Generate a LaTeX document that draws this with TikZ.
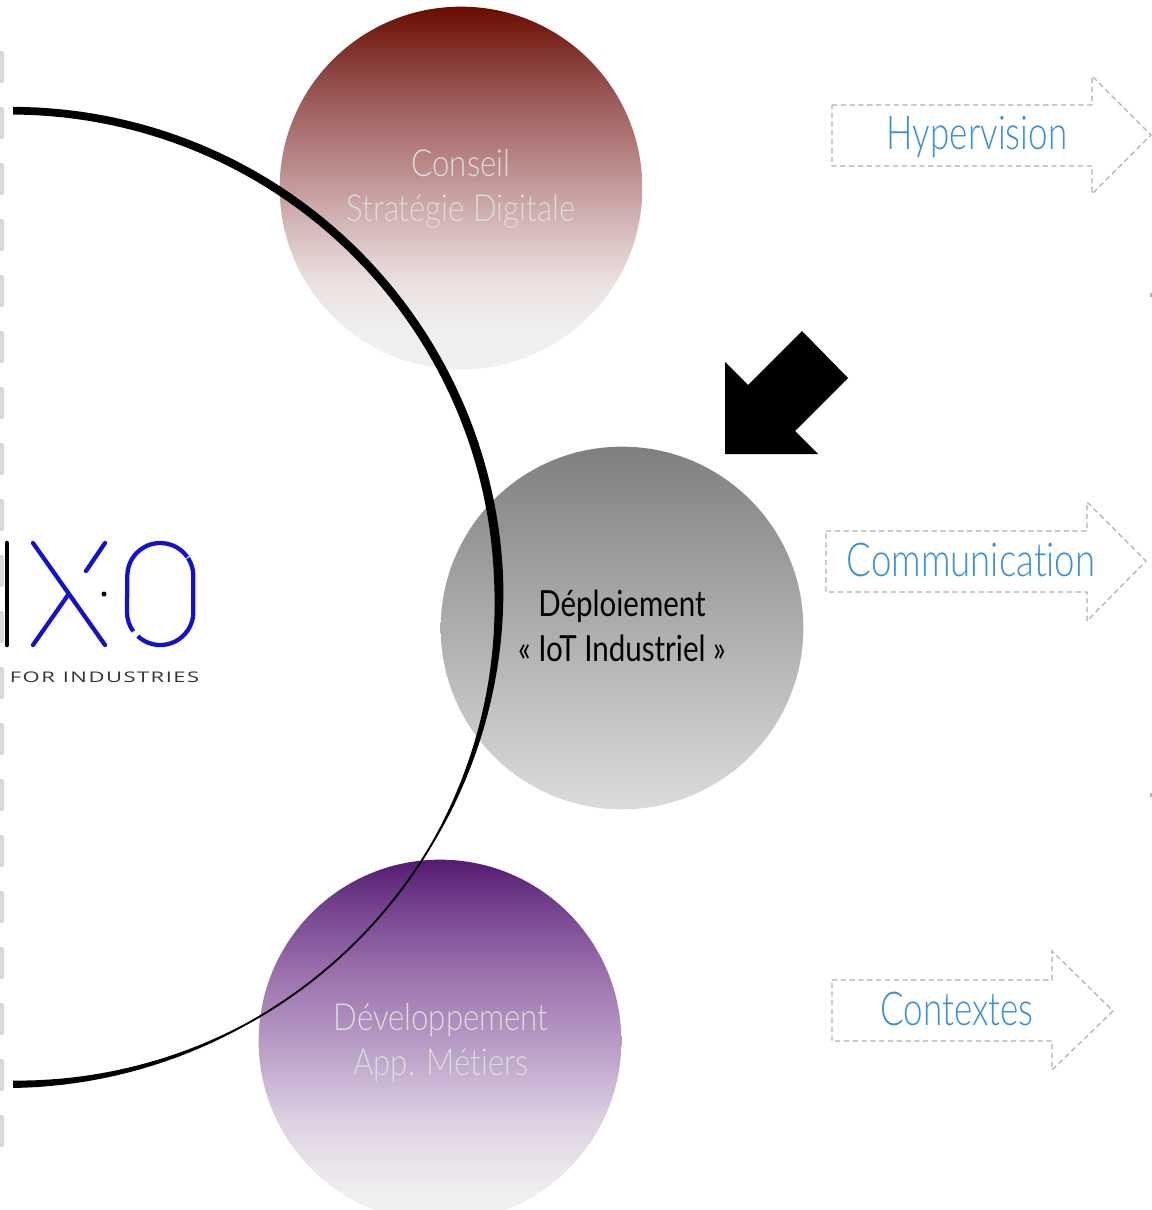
\documentclass[tikz,border=0pt]{standalone}
\usepackage{fontspec}
\setmainfont{Lato}
\newfontfamily\labelfont[FakeStretch=0.75,Ligatures=CommonOff]{Lato Light}
\newfontfamily\disclight[FakeStretch=0.835,Ligatures=CommonOff]{Lato Light}
\newfontfamily\discdark[FakeStretch=0.82,Ligatures=CommonOff]{Lato}
\newfontfamily\logofont[FakeStretch=1.5,LetterSpace=10]{Open Sans}
\definecolor{tabgray}{HTML}{D9D9D9}
\definecolor{dashgray}{HTML}{B0B0B0}
\definecolor{linkblue}{HTML}{3A8FD6}
\definecolor{logoblue}{HTML}{1212CC}
\definecolor{disctext}{HTML}{DCDCDC}
\pgfdeclareverticalshading{redfade}{100bp}{rgb(0bp)=(0.945,0.945,0.945);rgb(30bp)=(0.94,0.94,0.94);rgb(37bp)=(0.92,0.88,0.88);rgb(45bp)=(0.83,0.72,0.72);rgb(54bp)=(0.72,0.52,0.52);rgb(63bp)=(0.60,0.34,0.34);rgb(75bp)=(0.41,0.05,0.0);rgb(100bp)=(0.41,0.05,0.0)}
\pgfdeclareverticalshading{grayfade}{100bp}{rgb(0bp)=(0.86,0.86,0.86);rgb(25bp)=(0.86,0.86,0.86);rgb(75bp)=(0.50,0.50,0.50);rgb(100bp)=(0.50,0.50,0.50)}
\pgfdeclareverticalshading{purplefade}{100bp}{rgb(0bp)=(0.945,0.945,0.945);rgb(29bp)=(0.94,0.94,0.94);rgb(39bp)=(0.87,0.82,0.89);rgb(48bp)=(0.74,0.64,0.79);rgb(60bp)=(0.60,0.43,0.67);rgb(69bp)=(0.45,0.25,0.55);rgb(75bp)=(0.33,0.10,0.44);rgb(100bp)=(0.33,0.10,0.44)}
\tikzset{
  bigdisc/.style={circle,minimum size=272pt,inner sep=0pt,outer sep=0pt,draw=none},
  disclabel/.style={align=center,inner sep=0pt},
  arrowlabel/.style={font=\labelfont\fontsize{35pt}{40pt}\selectfont,text=linkblue,inner sep=0pt},
  dasharrow/.style={draw=dashgray,line width=0.9pt,dash pattern=on 4pt off 2.6pt},
  tabmark/.style={fill=tabgray,rounded corners=1.5pt},
  logostroke/.style={draw=logoblue,line width=3.2pt,line cap=round},
}
\begin{document}
\begin{tikzpicture}[x=0.75pt,y=-0.75pt,
  declare function={wd(\a)=1.9+7.3*max(0,min(1,(\a+30)/32))+5.5*max(0,min(1,(-\a-62)/28))-1.5*max(0,min(1,\a/90));}]
\useasboundingbox (0,0) rectangle (1152,1210);
\clip (0,0) rectangle (1152,1210);
\fill[white] (0,0) rectangle (1152,1210);
% left tabs
\foreach \k in {0,...,19}
  \fill[tabmark] (-6,51+56*\k) rectangle (4,83+56*\k);
% discs
\node[bigdisc,shading=redfade] (conseil) at (461,188) {};
\node[bigdisc,shading=grayfade] (deploiement) at (622,628) {};
\node[bigdisc,shading=purplefade] (developpement) at (440,1041) {};
% big arc
\begin{scope}
\clip (13,0) rectangle (1152,1210);
\fill[black] plot[domain=90:-90,samples=120] ({11.5+(487.5+wd(\x)/2)*cos(\x)},{597.5-(486.8+wd(\x)/2)*sin(\x)})
  -- plot[domain=-90:90,samples=120] ({11.5+(487.5-wd(\x)/2)*cos(\x)},{597.5-(486.8-wd(\x)/2)*sin(\x)}) -- cycle;
\end{scope}
% labels in discs
\node[disclabel,font=\disclight\fontsize{28pt}{33.75pt}\selectfont,text=disctext] (conseiltxt) at (461,188.5) {Conseil\\Stratégie Digitale};
\node[disclabel,font=\discdark\fontsize{27pt}{33.75pt}\selectfont,text=black] (deptxt) at (622,626) {Déploiement\\« IoT Industriel »};
\node[disclabel,font=\disclight\fontsize{28pt}{33.75pt}\selectfont,text=disctext] (devtxt) at (441,1042.5) {Développement\\App. Métiers};
% black arrow
\fill[black] (725,362) -- (748,385) -- (802,331) -- (848,378) -- (795,431) -- (818,454) -- (725,454) -- cycle;
% dashed arrows
\draw[dasharrow] (832,105) -- (1092,105) -- (1092,76) -- (1151,135) -- (1092,194) -- (1092,166) -- (832,166) -- cycle;
\node[arrowlabel] (hyper) at (977,136.5) {Hypervision};
\draw[dasharrow] (826,531) -- (1087,531) -- (1087,502) -- (1146,561) -- (1087,621) -- (1087,592) -- (826,592) -- cycle;
\node[arrowlabel,xscale=1.047] (comm) at (971,560) {Communication};
\draw[dasharrow] (832,980) -- (1052,980) -- (1052,951) -- (1113,1011) -- (1052,1070) -- (1052,1041) -- (832,1041) -- cycle;
\node[arrowlabel] (ctx) at (957,1009) {Contextes};
% right edge specks
\fill[dashgray] (1150,293) rectangle (1152,297);
\fill[dashgray] (1150,793) rectangle (1152,797);
% logo
\draw[black,line width=3.4pt,line cap=round] (7,543) -- (7,645);
\draw[logostroke] (33,543) -- (105,645);
\draw[logostroke] (105,543) -- (86,571);
\draw[logostroke] (68,595) -- (33,645);
\fill[black] (104,594) circle (2.5);
\draw[logostroke,line cap=butt] (188,558) arc (-33:0:33) -- (193.3,612) arc (0:133:33);
\draw[logostroke,line cap=butt] (133.3,631.4) arc (144:180:33) -- (127.3,576) arc (180:325:33);
\node[font=\logofont\fontsize{11pt}{13pt}\selectfont,text=black!80,inner sep=0pt] (forind) at (104.5,677) {FOR\hspace{6pt}INDUSTRIES};
\end{tikzpicture}
\end{document}
